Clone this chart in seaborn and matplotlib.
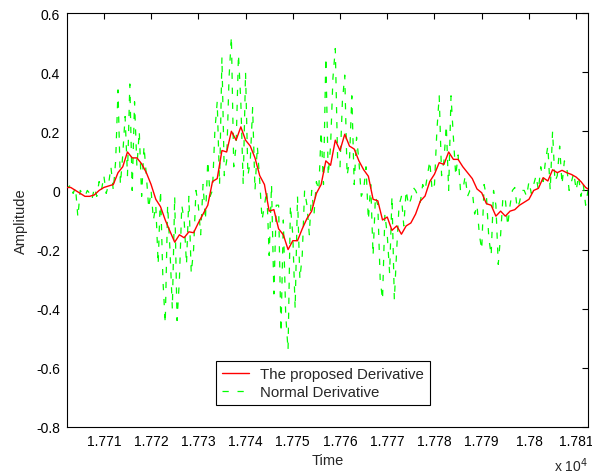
import numpy as np
import pandas as pd
import matplotlib
matplotlib.use("Agg")
import matplotlib.pyplot as plt
import seaborn as sns
from matplotlib.ticker import FuncFormatter

# Proposed derivative, sampled at Time = 17702, 17703, ...
red_vals = [
    0.01, 0.01, 0.0, -0.01, -0.02, -0.02, -0.015, 0.0, 0.01, 0.015,
    0.02, 0.06, 0.08, 0.13, 0.11, 0.11, 0.09, 0.06, 0.02, -0.03,
    -0.055, -0.10, -0.138, -0.175, -0.15, -0.16, -0.14, -0.143, -0.11, -0.08,
    -0.05, 0.03, 0.04, 0.135, 0.13, 0.20, 0.17, 0.215, 0.17, 0.15,
    0.11, 0.05, 0.02, -0.07, -0.065, -0.13, -0.15, -0.20, -0.17, -0.17,
    -0.13, -0.095, -0.07, -0.01, 0.02, 0.10, 0.085, 0.17, 0.135, 0.19,
    0.15, 0.14, 0.10, 0.07, 0.048, -0.03, -0.035, -0.10, -0.09, -0.135,
    -0.12, -0.148, -0.12, -0.11, -0.08, -0.036, -0.019, 0.03, 0.055, 0.094,
    0.088, 0.13, 0.105, 0.105, 0.08, 0.06, 0.04, 0.005, -0.008, -0.045,
    -0.05, -0.087, -0.07, -0.087, -0.07, -0.065, -0.05, -0.04, -0.03, 0.0,
    0.007, 0.043, 0.032, 0.07, 0.06, 0.068, 0.06, 0.054, 0.045, 0.03,
    0.01, 0.0,
]

# Normal derivative, sampled every half unit from Time = 17702
green_vals = [
    0.02, 0.01, 0.02, -0.01, 0.01, -0.09, 0.0, -0.01, -0.02, 0.0,
    -0.01, -0.03, 0.01, -0.02, 0.03, 0.0, 0.05, -0.01, 0.02, 0.08,
    0.0, 0.10, 0.34, 0.02, 0.12, 0.25, 0.05, 0.36, 0.0, 0.30,
    0.08, 0.20, -0.02, 0.15, 0.05, -0.06, 0.0, -0.10, -0.05, -0.25,
    0.0, -0.30, -0.45, -0.05, -0.20, -0.40, -0.02, -0.44, -0.30, -0.05,
    -0.10, -0.25, -0.02, -0.28, -0.20, 0.0, -0.05, -0.15, 0.02, -0.10,
    0.10, -0.02, 0.0, 0.20, 0.30, 0.02, 0.45, 0.05, 0.10, 0.38,
    0.52, 0.08, 0.15, 0.46, 0.30, 0.02, 0.40, 0.05, 0.10, 0.28,
    0.0, 0.15, 0.03, -0.10, -0.05, 0.0, -0.22, 0.02, -0.35, -0.05,
    -0.05, -0.48, -0.10, -0.42, -0.54, -0.05, -0.15, -0.40, -0.02, -0.30,
    -0.22, 0.0, -0.05, -0.15, 0.0, -0.08, 0.03, 0.0, 0.20, 0.02,
    0.45, 0.05, 0.15, 0.38, 0.48, 0.10, 0.08, 0.30, 0.39, 0.05,
    0.10, 0.32, 0.02, 0.18, 0.10, -0.02, 0.0, 0.08, -0.10, 0.02,
    -0.22, -0.02, -0.05, -0.30, -0.37, -0.08, -0.15, -0.28, -0.02, -0.37,
    -0.20, -0.05, -0.02, -0.12, 0.0, -0.05, -0.03, 0.01, 0.0, -0.02,
    -0.04, 0.02, 0.0, 0.05, 0.10, 0.0, 0.02, 0.20, 0.32, 0.05,
    0.10, 0.22, 0.0, 0.32, 0.18, 0.05, 0.12, 0.0, 0.0, 0.05,
    -0.02, 0.0, 0.0, -0.08, -0.05, -0.15, -0.20, 0.02, -0.02, -0.16,
    -0.22, 0.0, -0.05, -0.25, -0.15, -0.02, -0.03, -0.12, -0.05, 0.0,
    0.01, -0.06, -0.04, 0.0, 0.0, -0.02, 0.03, -0.01, 0.02, 0.05,
    0.0, 0.08, 0.03, 0.10, 0.15, 0.0, 0.20, 0.03, 0.05, 0.15,
    0.02, 0.10, 0.08, 0.0, 0.03, 0.06, 0.0, 0.05, -0.02, 0.02,
    -0.05, 0.0,
]

y_ticks = [-0.8, -0.6, -0.4, -0.2, 0, 0.2, 0.4, 0.6]
x_ticks = [17710, 17720, 17730, 17740, 17750, 17760, 17770, 17780, 17790, 17800, 17810]

t_red = 17702 + np.arange(len(red_vals))
t_green = 17702 + 0.5 * np.arange(len(green_vals))
df_red = pd.DataFrame({"Time": t_red, "Amplitude": red_vals})
df_green = pd.DataFrame({"Time": t_green, "Amplitude": green_vals})

sns.set_style("white")
plt.rcParams["font.family"] = ["Liberation Sans", "DejaVu Sans"]
plt.rcParams["axes.unicode_minus"] = False

fig = plt.figure(figsize=(5.92, 4.77), dpi=100)
ax = fig.add_axes([67 / 592, 1 - 428 / 477, 521 / 592, 414 / 477])

sns.lineplot(data=df_green, x="Time", y="Amplitude", ax=ax, color="#00ff00",
             linewidth=0.9, linestyle=(0, (5, 7)), sort=False, estimator=None,
             label="Normal Derivative", zorder=2)
sns.lineplot(data=df_red, x="Time", y="Amplitude", ax=ax, color="#ff0000",
             linewidth=1.0, sort=False, estimator=None,
             label="The proposed Derivative", zorder=3)

ax.set_xlim(17702.2, 17812.5)
ax.set_ylim(-0.8, 0.6)
ax.set_xticks(x_ticks)
ax.set_yticks(y_ticks)
ax.xaxis.set_major_formatter(FuncFormatter(lambda v, p: "{:g}".format(round(v / 1e4, 4))))
ax.yaxis.set_major_formatter(FuncFormatter(lambda v, p: "{:g}".format(round(v, 2))))
ax.tick_params(direction="in", length=4, width=0.8, colors="black", labelsize=10,
               top=True, right=True, pad=5)
for s in ax.spines.values():
    s.set_color("black")
    s.set_linewidth(0.8)

ax.set_xlabel("Time", fontsize=10.5, labelpad=4)
ax.set_ylabel("Amplitude", fontsize=10.5, labelpad=6)
ax.text(1.0, -0.092, "x 10$^4$", transform=ax.transAxes, ha="right", va="center", fontsize=10)

handles, labels = ax.get_legend_handles_labels()
leg = ax.legend(handles[::-1], labels[::-1], loc="lower left",
                bbox_to_anchor=(0.286, 0.053), borderaxespad=0, fontsize=10.8,
                frameon=True, fancybox=False, edgecolor="black", framealpha=1,
                handlelength=1.8, handletextpad=0.75, borderpad=0.4, labelspacing=0.25)
leg.get_frame().set_linewidth(0.8)

fig.savefig("out.png", dpi=100)
